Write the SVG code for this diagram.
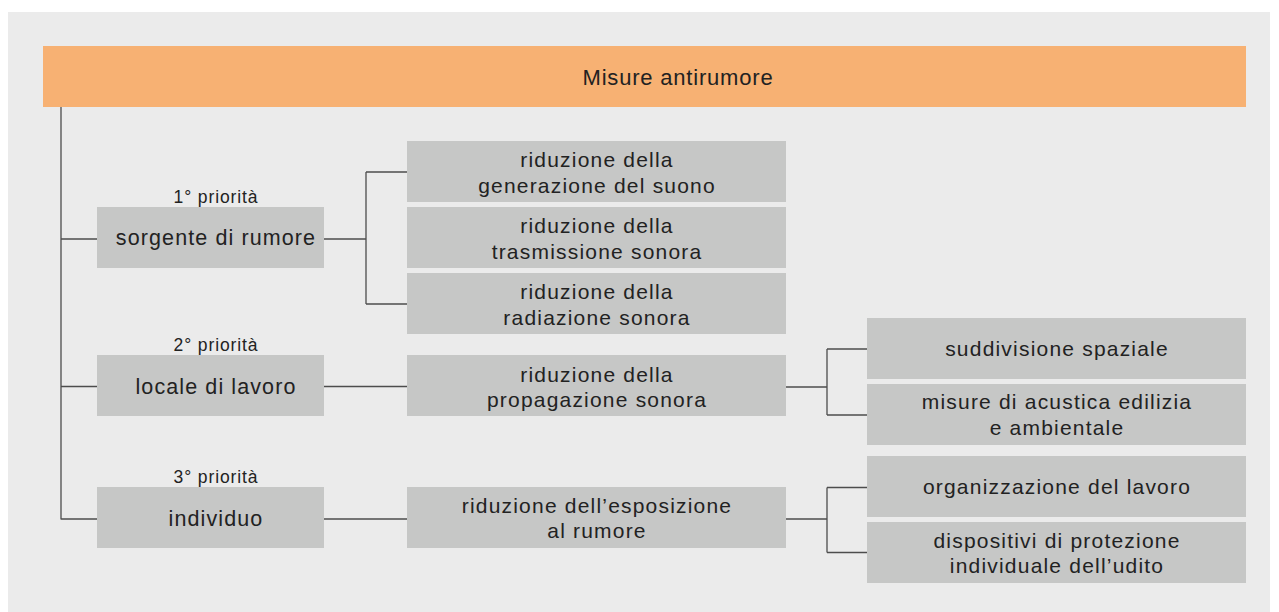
<svg xmlns="http://www.w3.org/2000/svg" width="1279" height="612" viewBox="0 0 1279 612">
<style>
.bg{fill:#ebebeb}
.box{fill:#c6c7c6}
.hdr{fill:#f7b173}
.t{font-family:"Liberation Sans",Arial,Helvetica,sans-serif;fill:#222;text-anchor:middle}
.t1{font-size:21.5px;letter-spacing:1.1px}
.t2{font-size:21px;letter-spacing:1.2px}
.tt{font-size:22px;letter-spacing:0.8px}
.tp{font-size:17.5px;letter-spacing:0.9px}
.c{fill:none;stroke:#4d4d4d;stroke-width:1.3}
</style>
<rect x="0" y="0" width="1279" height="612" fill="#ffffff"/>
<rect class="bg" x="8" y="12" width="1262" height="600"/>
<g id="connectors">
<path class="c" d="M61,107 V519.5 M61,239 H97 M61,386.5 H97 M61,519 H97"/>
<path class="c" d="M324,239 H366 M366,172 V304 M366,172 H407 M366,304 H407"/>
<path class="c" d="M324,386.5 H407 M324,519 H407"/>
<path class="c" d="M786,387 H827 M827,349 V415 M827,349 H867 M827,415 H867"/>
<path class="c" d="M786,519 H827 M827,487.5 V552.5 M827,487.5 H867 M827,552.5 H867"/>
</g>
<g id="header">
<rect class="hdr" x="43" y="46" width="1203" height="61"/>
<text class="t tt" x="678" y="85">Misure antirumore</text>
</g>
<g id="p1">
<text class="t tp" x="216" y="202.5">1° priorità</text>
</g>
<g id="p2">
<text class="t tp" x="216" y="350.5">2° priorità</text>
</g>
<g id="p3">
<text class="t tp" x="216" y="482.5">3° priorità</text>
</g>
<g id="sorgente">
<rect class="box" x="97" y="207" width="227" height="61"/>
<text class="t t1" x="216" y="245.3">sorgente di rumore</text>
</g>
<g id="locale">
<rect class="box" x="97" y="355" width="227" height="61"/>
<text class="t t1" x="216" y="393.5">locale di lavoro</text>
</g>
<g id="individuo">
<rect class="box" x="97" y="487" width="227" height="61"/>
<text class="t t1" x="216" y="525.5">individuo</text>
</g>
<g id="generazione">
<rect class="box" x="407" y="141" width="379" height="61"/>
<text class="t t2" x="597" y="166.7">riduzione della</text>
<text class="t t2" x="597" y="192.7">generazione del suono</text>
</g>
<g id="trasmissione">
<rect class="box" x="407" y="207" width="379" height="61"/>
<text class="t t2" x="597" y="232.7">riduzione della</text>
<text class="t t2" x="597" y="258.7">trasmissione sonora</text>
</g>
<g id="radiazione">
<rect class="box" x="407" y="273" width="379" height="61"/>
<text class="t t2" x="597" y="298.7">riduzione della</text>
<text class="t t2" x="597" y="324.7">radiazione sonora</text>
</g>
<g id="propagazione">
<rect class="box" x="407" y="355" width="379" height="61"/>
<text class="t t2" x="597" y="381.5">riduzione della</text>
<text class="t t2" x="597" y="406.5">propagazione sonora</text>
</g>
<g id="esposizione">
<rect class="box" x="407" y="487" width="379" height="61"/>
<text class="t t2" x="597" y="513.3">riduzione dell’esposizione</text>
<text class="t t2" x="597" y="538">al rumore</text>
</g>
<g id="suddivisione">
<rect class="box" x="867" y="318" width="379" height="61"/>
<text class="t t2" x="1057" y="356">suddivisione spaziale</text>
</g>
<g id="acustica">
<rect class="box" x="867" y="384" width="379" height="61"/>
<text class="t t2" x="1057" y="409.3">misure di acustica edilizia</text>
<text class="t t2" x="1057" y="435">e ambientale</text>
</g>
<g id="organizzazione">
<rect class="box" x="867" y="456" width="379" height="61"/>
<text class="t t2" x="1057" y="494">organizzazione del lavoro</text>
</g>
<g id="dispositivi">
<rect class="box" x="867" y="522" width="379" height="61"/>
<text class="t t2" x="1057" y="548.3">dispositivi di protezione</text>
<text class="t t2" x="1057" y="573.3">individuale dell’udito</text>
</g>
</svg>
